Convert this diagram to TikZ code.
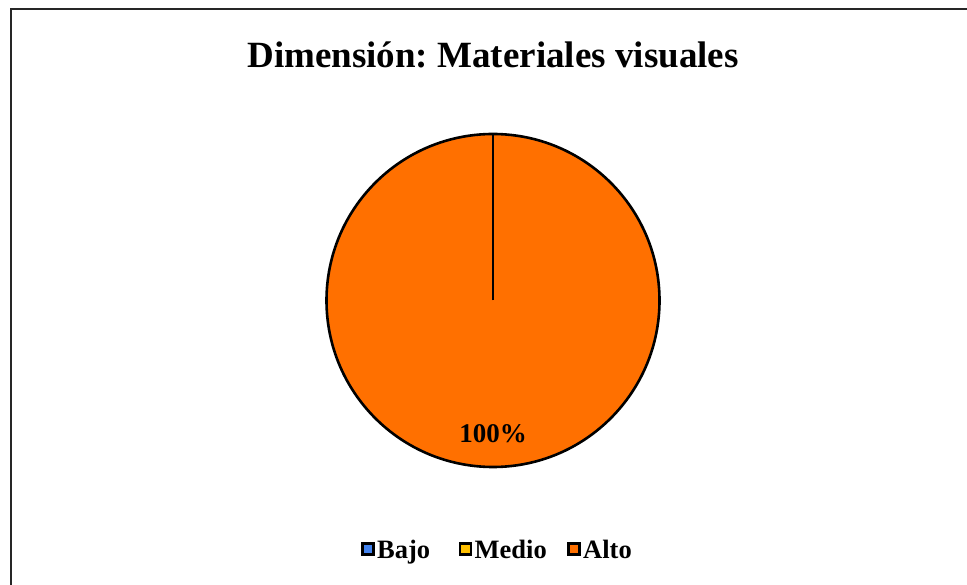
\documentclass[tikz,border=0pt]{standalone}
\usepackage{fontspec}
\setmainfont{Liberation Serif}
\frenchspacing
\definecolor{alto}{RGB}{255,112,0}
\definecolor{bajo}{RGB}{68,132,240}
\definecolor{medio}{RGB}{255,192,0}
\tikzset{
  legbox/.style={draw=black, line width=2.6pt, minimum size=11pt, inner sep=0pt},
  legtext/.style={font=\fontsize{26.5}{30}\selectfont\bfseries, inner sep=0pt, anchor=base west},
}
\begin{document}
\begin{tikzpicture}[x=1pt,y=1pt]
\useasboundingbox (0,0) rectangle (967,584);
\fill[white] (0,0) rectangle (967,584);
\draw[line width=2pt, color=black!85] (11,-10) -- (11,575) -- (980,575);
\node[font=\fontsize{37}{42}\selectfont\bfseries] (title) at (493,529) {Dimensión: Materiales visuales};
\node[circle, draw=black, line width=2.6pt, fill=alto, minimum size=333pt, inner sep=0pt] (pie) at (493,283.5) {};
\coordinate (top) at (pie.north);
\draw[line width=2.6pt] (pie.center) -- (top);
\node[font=\fontsize{27}{30}\selectfont\bfseries] (lbl) at (493,150) {100\%};
\node[legbox, fill=bajo] (b1) at (368,35) {};
\node[legtext] (t1) at (377,26) {Bajo};
\node[legbox, fill=medio] (b2) at (465.5,35) {};
\node[legtext] (t2) at (474.5,26) {Medio};
\node[legbox, fill=alto] (b3) at (574,35) {};
\node[legtext] (t3) at (583,26) {Alto};
\end{tikzpicture}
\end{document}
